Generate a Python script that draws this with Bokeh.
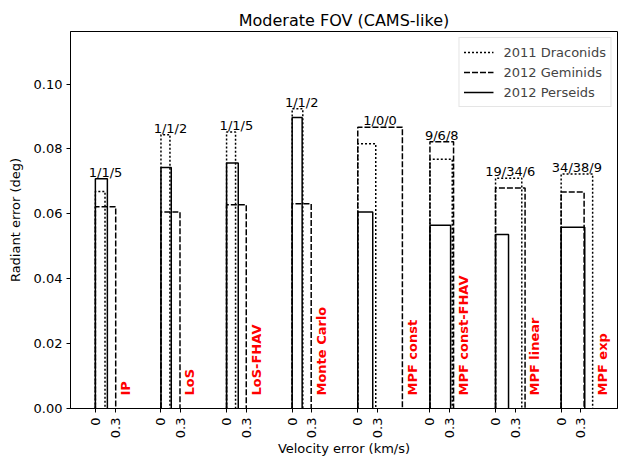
import math
from bokeh.plotting import figure
from bokeh.models import (Range1d, FixedTicker, CustomJSTickFormatter, NumeralTickFormatter,
                          Legend, LegendItem, ColumnDataSource)
from bokeh.core.properties import value
from bokeh.embed import file_html
from bokeh.resources import INLINE

# ---- data ----
methods = ["IP", "LoS", "LoS-FHAV", "Monte Carlo", "MPF const", "MPF const-FHAV", "MPF linear", "MPF exp"]
counts = ["1/1/5", "1/1/2", "1/1/5", "1/1/2", "1/0/0", "9/6/8", "19/34/6", "34/38/9"]

series_names = ["2011 Draconids", "2012 Geminids", "2012 Perseids"]
# velocity error (km/s)
dra_vel = [0.147, 0.137, 0.137, 0.162, 0.274, 0.34, 0.40, 0.48]
gem_vel = [0.31, 0.29, 0.30, 0.29, 0.68, 0.36, 0.45, 0.35]
per_vel = [0.183, 0.157, 0.178, 0.152, 0.228, 0.315, 0.198, 0.36]
# radiant error (deg)
dra_rad = [0.0669, 0.0844, 0.0852, 0.0924, 0.0816, 0.0768, 0.0710, 0.0723]
gem_rad = [0.0622, 0.0606, 0.0628, 0.0631, 0.0867, 0.0822, 0.0680, 0.0667]
per_rad = [0.0708, 0.0743, 0.0757, 0.0897, 0.0606, 0.0565, 0.0536, 0.0559]

y_ticks = [0.0, 0.02, 0.04, 0.06, 0.08, 0.10]
tick_step = 0.3

FONT = "DejaVu Sans"

vels = [dra_vel, gem_vel, per_vel]
rads = [dra_rad, gem_rad, per_rad]
dashes = ["2 2", "6 2", "solid"]

# group offsets along x
maxw = [max(v[i] for v in vels) for i in range(len(methods))]
maxh = [max(r[i] for r in rads) for i in range(len(methods))]
offsets = [0.0]
for i in range(len(methods) - 1):
    offsets.append(round(offsets[-1] + max(1.0, maxw[i] + 0.42), 3))

x_max = max(o + w for o, w in zip(offsets, maxw))
pad = 0.05 * x_max

p = figure(width=618, height=459, output_backend="svg", toolbar_location=None,
           x_range=Range1d(-pad, x_max + pad), y_range=Range1d(0, 0.1162),
           title="Moderate FOV (CAMS-like)",
           min_border_left=70, min_border_right=1, min_border_top=31, min_border_bottom=50)
p.background_fill_color = "white"
p.border_fill_color = "white"
p.outline_line_color = "black"
p.outline_line_width = 1
p.xgrid.visible = False
p.ygrid.visible = False

p.title.text_font = FONT
p.title.text_font_size = "16px"
p.title.text_font_style = "normal"
p.title.align = "center"
p.title.standoff = 4
p.title.text_color = "black"

renderers = []
for name, v, r, d in zip(series_names, vels, rads, dashes):
    xs = [[o, o, o + w, o + w] for o, w in zip(offsets, v)]
    ys = [[0, h, h, 0] for h in r]
    rr = p.multi_line(xs=xs, ys=ys, line_color="black", line_width=1.5, line_dash=d)
    renderers.append(rr)

# count labels on top
src_c = ColumnDataSource(dict(x=[o + w / 2 for o, w in zip(offsets, maxw)], y=maxh, t=counts))
p.text(x="x", y="y", text="t", source=src_c, text_align="center", text_baseline="bottom",
       text_font=value(FONT), text_font_size="13px", text_color="black", y_offset=1)

# method labels
src_m = ColumnDataSource(dict(x=[o + w + 0.15 for o, w in zip(offsets, maxw)], y=[0.004] * len(methods), t=methods))
p.text(x="x", y="y", text="t", source=src_m, angle=math.pi / 2, text_align="left",
       text_baseline="middle", text_font=value(FONT), text_font_size="13px",
       text_font_style="bold", text_color="#ff0000")

# axes
xt = []
for o in offsets:
    xt += [o, round(o + tick_step, 3)]
p.xaxis.ticker = FixedTicker(ticks=xt, minor_ticks=[])
p.xaxis.formatter = CustomJSTickFormatter(args=dict(zeros=offsets), code="""
for (const z of zeros) { if (Math.abs(tick - z) < 1e-6) return '0'; }
return '0.3';
""")
p.xaxis.major_label_orientation = math.pi / 2
p.yaxis.ticker = FixedTicker(ticks=y_ticks, minor_ticks=[])
p.yaxis.formatter = NumeralTickFormatter(format="0.00")

for ax, lab in ((p.xaxis, "Velocity error (km/s)"), (p.yaxis, "Radiant error (deg)")):
    ax.axis_label = lab
    ax.axis_label_text_font = FONT
    ax.axis_label_text_font_size = "13px"
    ax.axis_label_text_font_style = "normal"
    ax.axis_label_text_color = "black"
    ax.major_label_text_font = FONT
    ax.major_label_text_font_size = "13px"
    ax.major_label_text_color = "black"
    ax.axis_line_color = "black"
    ax.major_tick_line_color = "black"
    ax.major_tick_out = 4
    ax.major_tick_in = 0
    ax.minor_tick_out = 0
    ax.minor_tick_in = 0
p.xaxis.major_label_standoff = 5
p.xaxis.axis_label_standoff = 0
p.yaxis.major_label_standoff = 4
p.yaxis.axis_label_standoff = 8

legend = Legend(items=[LegendItem(label=n, renderers=[r]) for n, r in zip(series_names, renderers)],
                location="top_right")
legend.label_text_font = FONT
legend.label_text_font_size = "13px"
legend.glyph_width = 30
legend.glyph_height = 20
legend.label_height = 20
legend.spacing = 0
legend.padding = 4
legend.margin = 6
legend.label_standoff = 10
legend.border_line_color = "#cccccc"
legend.background_fill_alpha = 0.8
p.add_layout(legend)

open("out.html", "w").write(file_html(p, INLINE))
